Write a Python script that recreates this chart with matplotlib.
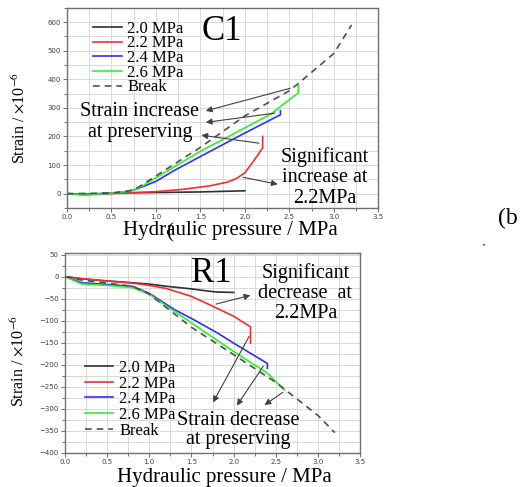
import matplotlib
matplotlib.use("Agg")
import matplotlib.pyplot as plt
from matplotlib.ticker import MultipleLocator

plt.rcParams['font.family'] = ['Liberation Serif', 'DejaVu Serif']
plt.rcParams['mathtext.fontset'] = 'stix'

# ---- C1 (top) data
c1_x20 = [0, 0.2, 0.5, 1.0, 1.5, 2.0]
c1_y20 = [0, -2, 2, 4, 6, 10]
c1_x22 = [0, 0.2, 0.5, 1.0, 1.3, 1.6, 1.8, 1.9, 2.0, 2.1, 2.2, 2.2]
c1_y22 = [0, -3, 0, 7, 15, 27, 40, 52, 73, 115, 160, 200]
c1_x24 = [0, 0.2, 0.5, 0.7, 0.8, 1.0, 1.2, 1.5, 2.0, 2.4, 2.4]
c1_y24 = [0, -4, 2, 8, 18, 43, 80, 130, 212, 276, 290]
c1_x26 = [0, 0.2, 0.5, 0.7, 0.8, 1.0, 1.5, 2.0, 2.3, 2.5, 2.6, 2.6]
c1_y26 = [0, -5, 2, 8, 18, 56, 148, 230, 280, 329, 352, 378]
c1_xbr = [0, 0.5, 0.7, 0.8, 1.0, 1.5, 2.0, 2.5, 2.6, 3.0, 3.2]
c1_ybr = [0, 2, 10, 22, 62, 162, 272, 360, 385, 490, 590]

# ---- R1 (bottom) data
r1_x20 = [0, 0.2, 0.5, 0.8, 1.0, 1.2, 1.5, 1.7, 1.8, 2.0]
r1_y20 = [0, -5, -10, -14, -17, -22, -28, -33, -35, -36]
r1_x22 = [0, 0.2, 0.5, 0.8, 1.0, 1.2, 1.5, 1.75, 2.0, 2.2, 2.2]
r1_y22 = [0, -5, -10, -15, -20, -27, -45, -67, -90, -114, -151]
r1_x24 = [0, 0.2, 0.5, 0.8, 1.0, 1.3, 1.5, 1.8, 2.0, 2.4, 2.4]
r1_y24 = [0, -14, -18, -22, -38, -75, -95, -127, -151, -197, -208]
r1_x26 = [0, 0.2, 0.5, 0.8, 1.0, 1.5, 2.0, 2.4, 2.6]
r1_y26 = [0, -17, -20, -25, -40, -105, -170, -219, -257]
r1_xbr = [0, 0.2, 0.5, 0.8, 1.0, 1.5, 2.0, 2.5, 3.0, 3.2]
r1_ybr = [0, -8, -15, -22, -40, -115, -177, -240, -315, -354]

labels = ['2.0 MPa', '2.2 MPa', '2.4 MPa', '2.6 MPa', 'Break']
colors = ['#303030', '#f03030', '#3030f0', '#30f030', '#505050']

fig = plt.figure(figsize=(5.32, 4.87), dpi=100)
ax1 = fig.add_axes([0.126, 0.573, 0.585, 0.411])
ax2 = fig.add_axes([0.122, 0.070, 0.555, 0.411])


def style(ax, ymin, ymax, ymajor, yminor):
    ax.set_xlim(0, 3.5)
    ax.set_ylim(ymin, ymax)
    ax.xaxis.set_major_locator(MultipleLocator(0.5))
    ax.xaxis.set_minor_locator(MultipleLocator(0.25))
    ax.yaxis.set_major_locator(MultipleLocator(ymajor))
    ax.yaxis.set_minor_locator(MultipleLocator(yminor))
    ax.grid(True, which='both', color='#d8d8d8', lw=0.7)
    ax.set_axisbelow(True)
    ax.tick_params(which='both', direction='out', color='#707070', labelsize=5,
                   labelcolor='#404040', pad=1.5, width=0.7)
    ax.tick_params(which='major', length=3)
    ax.tick_params(which='minor', length=2)
    for lab in ax.get_xticklabels() + ax.get_yticklabels():
        lab.set_family('DejaVu Sans')
    for sp in ax.spines.values():
        sp.set_color('#707070')
        sp.set_linewidth(1.0)
    ax.xaxis.set_major_formatter(matplotlib.ticker.FormatStrFormatter('%.1f'))


arrow = dict(arrowstyle='-|>', color='#404040', lw=0.8, mutation_scale=9)

# ---- top panel
ax1.plot(c1_x20, c1_y20, color=colors[0], lw=1.2, label=labels[0])
ax1.plot(c1_x22, c1_y22, color=colors[1], lw=1.2, label=labels[1])
ax1.plot(c1_x24, c1_y24, color=colors[2], lw=1.2, label=labels[2])
ax1.plot(c1_x26, c1_y26, color=colors[3], lw=1.2, label=labels[3])
ax1.plot(c1_xbr, c1_ybr, color=colors[4], lw=1.2, ls=(0, (4, 3)), label=labels[4])
style(ax1, -50, 650, 100, 50)
ax1.set_yticks([0, 100, 200, 300, 400, 500, 600])
ax1.legend(loc='upper left', bbox_to_anchor=(0.084, 0.935), frameon=False, fontsize=12,
           labelspacing=-0.08, handlelength=1.7, handletextpad=0.35, borderpad=0, borderaxespad=0)
ax1.text(1.74, 567, 'C1', fontsize=25, ha='center', va='center')
ax1.text(0.82, 287, 'Strain increase', fontsize=14.5, ha='center', va='center')
ax1.text(0.82, 213, 'at preserving', fontsize=14.5, ha='center', va='center')
ax1.text(2.9, 57, 'Significant\nincrease at\n2.2MPa', fontsize=14.5, ha='center', va='center',
         linespacing=1.1)
ax1.annotate('', xy=(1.53, 287), xytext=(2.54, 371), arrowprops=arrow)
ax1.annotate('', xy=(1.53, 248), xytext=(2.37, 283), arrowprops=arrow)
ax1.annotate('', xy=(1.48, 206), xytext=(2.19, 175), arrowprops=arrow)
ax1.annotate('', xy=(2.40, 31), xytext=(1.95, 59), arrowprops=arrow)
ax1.set_xlabel('Hydraulic pressure / MPa', fontsize=15)
ax1.xaxis.set_label_coords(0.524, -0.065)
ax1.set_ylabel(r'Strain / $\times$10$^{-6}$', fontsize=11.5)
ax1.yaxis.set_label_coords(-0.125, 0.45)

# ---- bottom panel
ax2.plot(r1_x20, r1_y20, color=colors[0], lw=1.2, label=labels[0])
ax2.plot(r1_x22, r1_y22, color=colors[1], lw=1.2, label=labels[1])
ax2.plot(r1_x24, r1_y24, color=colors[2], lw=1.2, label=labels[2])
ax2.plot(r1_x26, r1_y26, color=colors[3], lw=1.2, label=labels[3])
ax2.plot(r1_xbr, r1_ybr, color=colors[4], lw=1.2, ls=(0, (4, 3)), label=labels[4])
style(ax2, -400, 54, 50, 25)
ax2.set_yticks(list(range(-400, 51, 50)))
ax2.legend(loc='upper left', bbox_to_anchor=(0.068, 0.465), frameon=False, fontsize=12,
           labelspacing=-0.02, handlelength=1.7, handletextpad=0.35, borderpad=0, borderaxespad=0)
ax2.text(1.74, 8, 'R1', fontsize=25, ha='center', va='center')
ax2.text(2.85, -37, 'Significant\ndecrease  at\n2.2MPa', fontsize=14.5, ha='center', va='center',
         linespacing=1.05)
ax2.text(2.05, -347, 'Strain decrease\nat preserving', fontsize=14.5, ha='center', va='center',
         linespacing=1.0)
ax2.annotate('', xy=(2.23, -41), xytext=(1.76, -64), arrowprops=arrow)
ax2.annotate('', xy=(1.74, -291), xytext=(2.2, -130), arrowprops=arrow)
ax2.annotate('', xy=(2.02, -298), xytext=(2.37, -198), arrowprops=arrow)
ax2.annotate('', xy=(2.34, -295), xytext=(2.61, -259), arrowprops=arrow)
ax2.set_xlabel('Hydraulic pressure / MPa', fontsize=15)
ax2.xaxis.set_label_coords(0.54, -0.075)
ax2.set_ylabel(r'Strain / $\times$10$^{-6}$', fontsize=11.5)
ax2.yaxis.set_label_coords(-0.125, 0.46)

# stray caption fragments (they overlap the x label in the source too)
fig.text(170 / 532, 1 - 233 / 487, '(', fontsize=15, ha='center', va='center')
fig.text(508 / 532, 1 - 218 / 487, '(b', fontsize=17, ha='center', va='center')
fig.text(483 / 532, 1 - 250 / 487, '`', fontsize=9, ha='center', va='center')

fig.savefig('out.png', dpi=100)
